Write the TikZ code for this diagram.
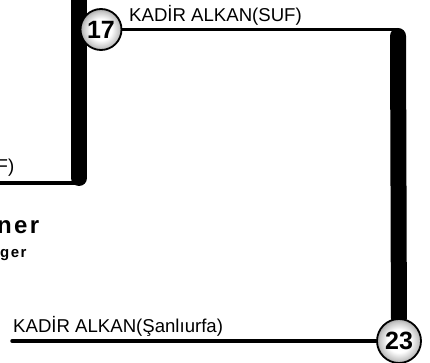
\documentclass[tikz,border=0pt]{standalone}
\usepackage{fontspec}
\setmainfont{Liberation Sans}
\usetikzlibrary{backgrounds}
\pgfdeclareradialshading{stationball}{\pgfpoint{0bp}{0bp}}{%
  color(0bp)=(white); color(13bp)=(white); color(22bp)=(gray!45);
  color(25bp)=(gray!70); color(50bp)=(gray!70)}
\tikzset{
  bar/.style={line width=16pt, line cap=round, black},
  rail/.style={line width=3.5pt, line cap=round, black},
  num/.style={circle, draw=black, line width=1.8pt, inner sep=0pt,
    shading=stationball,
    font=\fontsize{25}{25}\selectfont\bfseries},
  lbl/.style={inner sep=0pt, font=\fontsize{18.6}{20}\selectfont},
  bigbold/.style={inner sep=0pt, font=\fontsize{24}{26}\selectfont\bfseries\addfontfeatures{LetterSpace=10}},
  smallbold/.style={inner sep=0pt, font=\fontsize{15}{17}\selectfont\bfseries\addfontfeatures{LetterSpace=10}},
}
\begin{document}
\begin{tikzpicture}[x=1pt,y=-1pt]
\useasboundingbox (0,0) rectangle (430,363);
\clip (0,0) rectangle (430,363);
\node[num, minimum size=41pt] (c17) at (101,29.5) {17};
\node[num, minimum size=44pt] (c23) at (399,341) {23};
\coordinate (tl) at (79,-20);
\coordinate (bl) at (79,178);
\coordinate (blc) at (80,183);
\coordinate (l0) at (-5,183);
\coordinate (tr) at (398,29.5);
\coordinate (trb) at (398,36);
\coordinate (b0) at (12,341);
\begin{pgfonlayer}{background}
\draw[bar] (tl) -- (bl);
\draw[rail] (l0) -- (blc);
\draw[rail] (c17) -- (tr);
\draw[bar] (trb) -- (c23);
\draw[rail] (b0) -- (c23);
\end{pgfonlayer}
\node[lbl, anchor=base west] (t1) at (129,21.5) {KADİR ALKAN(SUF)};
\node[lbl, anchor=base west] (t2) at (13,332) {KADİR ALKAN(Şanlıurfa)};
\node[lbl, anchor=base east] (t3) at (14.5,172) {F)};
\node[bigbold, anchor=base west] (t4) at (-3,233) {ner};
\node[smallbold, anchor=base west] (t5) at (0,257) {ger};
\end{tikzpicture}
\end{document}
